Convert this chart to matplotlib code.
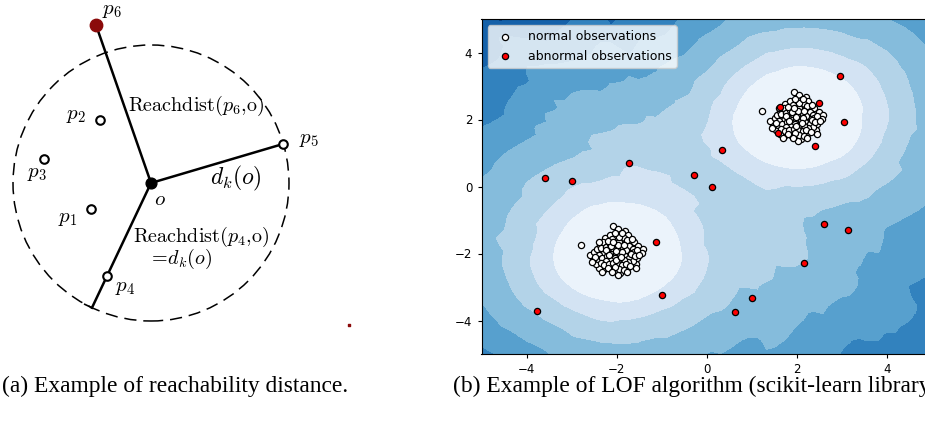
import numpy as np
import matplotlib
matplotlib.use("Agg")
from matplotlib import pyplot as plt

plt.rcParams['mathtext.fontset'] = 'cm'

# --- panel (a): reachability distance sketch (units ~ px, o at origin, y up)
o_pt = (0, 0)
p_names = ['p_1', 'p_2', 'p_3', 'p_4', 'p_5']
p_x = [-60, -51, -107, -44, 132]
p_y = [-26, 63, 24, -93, 39]
p6_pt = (-55, 158)
k_radius = 138

# --- panel (b): LOF example
# offsets of the inlier blob (same blob used at +2 and -2)
inl_dx = [-0.79, -0.08, 0.03, 0.19, 0.25, -0.27, -0.15, 0.08, 0.38, 0.48,
          0.58, 0.55, 0.44, 0.42, 0.43, 0.24, 0.08, 0.02, -0.13, -0.30,
          -0.39, -0.47, -0.53, -0.60, -0.50, -0.45, -0.38, -0.30, -0.10, 0.15,
          -0.35, -0.25, -0.15, -0.05, 0.05, 0.18, 0.28, 0.35, 0.30, 0.20,
          0.10, 0.00, -0.10, -0.20, -0.30, -0.40, -0.42, -0.33, -0.22, -0.12,
          -0.02, 0.08, 0.18, 0.28, 0.35, 0.25, 0.15, 0.05, -0.05, -0.15,
          -0.25, -0.35, -0.28, -0.18, -0.08, 0.02, 0.12, 0.20, 0.05, -0.05,
          -0.20, 0.30, 0.38, 0.45, -0.48, -0.12, 0.02, 0.12, -0.02, -0.25,
          0.22, -0.20, 0.05, -0.05, 0.12, -0.40, 0.32, 0.40, -0.10, 0.15,
          -0.55, 0.50, 0.33, -0.32, 0.22, -0.02, 0.10, -0.18, 0.15, -0.08]
inl_dy = [0.24, 0.83, 0.73, 0.66, 0.56, 0.46, 0.55, 0.58, 0.33, 0.22,
          0.12, 0.02, -0.14, -0.30, -0.44, -0.40, -0.57, -0.63, -0.46, -0.48,
          -0.42, -0.30, -0.18, -0.03, 0.05, 0.12, 0.25, 0.33, 0.42, 0.45,
          0.15, 0.20, 0.28, 0.30, 0.35, 0.30, 0.22, 0.12, 0.02, 0.10,
          0.18, 0.15, 0.12, 0.05, 0.00, -0.05, -0.15, -0.12, -0.08, -0.02,
          0.02, -0.05, -0.08, -0.12, -0.22, -0.25, -0.20, -0.15, -0.12, -0.18,
          -0.22, -0.28, -0.35, -0.30, -0.28, -0.30, -0.35, -0.32, -0.45, -0.40,
          -0.42, -0.38, 0.05, 0.10, -0.10, 0.22, 0.25, 0.05, -0.20, 0.10,
          0.40, 0.38, 0.50, 0.62, 0.62, 0.35, -0.02, -0.08, -0.55, -0.50,
          -0.25, -0.05, 0.42, -0.55, -0.55, 0.08, -0.10, -0.05, 0.25, 0.35]
blob_centres = [2, -2]
out_x = [2.95, 2.48, 1.61, 3.04, 1.58, 2.39, 0.33, -1.72, -3.59, -2.99,
         -0.28, 0.11, -1.13, 2.59, 3.13, 2.16, -0.99, 0.99, 0.63, -3.76]
out_y = [3.31, 2.48, 2.36, 1.93, 1.60, 1.20, 1.08, 0.71, 0.25, 0.16,
         0.33, 0.00, -1.65, -1.13, -1.30, -2.28, -3.25, -3.33, -3.75, -3.72]
n_neighbors = 20
# contour levels of the (negated) LOF score
lof_levels = [-16, -14, -12, -10, -8, -6, -4.4, -3.0, 0]

cap_a = '(a) Example of reachability distance.'
cap_b = '(b) Example of LOF algorithm (scikit-learn library)'


def lof_score(X, Q, k):
    # plain local outlier factor, returned negated like sklearn
    d = np.sqrt(((X[:, None, :] - X[None, :, :]) ** 2).sum(-1))
    np.fill_diagonal(d, np.inf)
    idx = np.argsort(d, axis=1)[:, :k]
    dist = np.take_along_axis(d, idx, axis=1)
    kdist = dist[:, -1]
    lrd = 1.0 / (np.maximum(dist, kdist[idx]).mean(1) + 1e-10)
    dq = np.sqrt(((Q[:, None, :] - X[None, :, :]) ** 2).sum(-1))
    iq = np.argsort(dq, axis=1)[:, :k]
    distq = np.take_along_axis(dq, iq, axis=1)
    lrdq = 1.0 / (np.maximum(distq, kdist[iq]).mean(1) + 1e-10)
    return -(lrd[iq].mean(1) / lrdq)


fig = plt.figure(figsize=(9.25, 4.21), dpi=100)

# ---------------- panel (a)
ax1 = fig.add_axes([0, 0, 440 / 925, 1])
ax1.set_xlim(-151, 289)
ax1.set_ylim(-238, 183)
ax1.axis('off')

circ = plt.Circle(o_pt, k_radius, fill=False, ls=(0, (8, 4.5)), lw=1.1, color='k')
ax1.add_patch(circ)

# segments from o
ax1.plot([o_pt[0], p6_pt[0]], [o_pt[1], p6_pt[1]], color='k', lw=1.8, zorder=2)
ax1.plot([o_pt[0], p_x[4]], [o_pt[1], p_y[4]], color='k', lw=1.8, zorder=2)
u = np.array([p_x[3], p_y[3]], float)
u = u / np.linalg.norm(u)
end = u * k_radius
ax1.plot([o_pt[0], end[0]], [o_pt[1], end[1]], color='k', lw=1.8, zorder=2)
perp = np.array([-u[1], u[0]])
ax1.plot([end[0], end[0] - 8 * perp[0]], [end[1], end[1] - 8 * perp[1]], color='k', lw=1.2)

ax1.scatter(p_x, p_y, s=38, facecolor='white', edgecolor='k', linewidth=1.5, zorder=3)
ax1.scatter([o_pt[0]], [o_pt[1]], s=60, color='k', zorder=3)
ax1.scatter([p6_pt[0]], [p6_pt[1]], s=80, color='#8b0a0a', zorder=3)
ax1.scatter([198], [-142], s=2, color='#8b0a0a', marker='s')

fs = 15
lab_pos = {'p_1': (-83, -35), 'p_2': (-75, 68), 'p_3': (-114, 10),
           'p_4': (-26, -104), 'p_5': (158, 44), 'p_6': (-39, 173)}
for name, (lx, ly) in lab_pos.items():
    ax1.text(lx, ly, '$%s$' % name, fontsize=fs, ha='center', va='center')
ax1.text(9, -16, '$o$', fontsize=fs, ha='center', va='center')
ax1.text(85, 5, '$d_k(o)$', fontsize=17, ha='center', va='center')
ax1.text(45, 77, r'$\mathrm{Reachdist}(p_6,\!\mathrm{o})$', fontsize=14.5, ha='center', va='center')
ax1.text(50, -54, r'$\mathrm{Reachdist}(p_4,\!\mathrm{o})$', fontsize=14.5, ha='center', va='center')
ax1.text(29, -76, r'$=\!d_k(o)$', fontsize=14.5, ha='center', va='center')

# ---------------- panel (b)
inl = np.array([inl_dx, inl_dy]).T
X = np.vstack([inl + blob_centres[0], inl + blob_centres[1],
               np.array([out_x, out_y]).T])
xx, yy = np.meshgrid(np.linspace(-5, 5, 50), np.linspace(-5, 5, 50))
Z = lof_score(X, np.c_[xx.ravel(), yy.ravel()], n_neighbors).reshape(xx.shape)

ax2 = fig.add_axes([481.5 / 925, 67 / 421, 451 / 925, 335 / 421])
nb = len(lof_levels) - 1
band_cols = [plt.cm.Blues_r((2 * i + 1) / (2 * nb)) for i in range(nb)]
ax2.contourf(xx, yy, Z, levels=lof_levels, colors=band_cols, extend='both')
n_in = 2 * len(inl_dx)
a = ax2.scatter(X[:n_in, 0], X[:n_in, 1], c='white', edgecolor='k', s=20, linewidth=0.9)
b = ax2.scatter(X[n_in:, 0], X[n_in:, 1], c='red', edgecolor='k', s=20, linewidth=0.9)
ax2.set_xlim(-5, 5)
ax2.set_ylim(-5, 5)
ax2.set_xticks([-4, -2, 0, 2, 4])
ax2.set_yticks([-4, -2, 0, 2, 4])
ax2.tick_params(labelsize=8.5, length=3.2, width=0.8)
ax2.legend([a, b], ["normal observations", "abnormal observations"],
           loc="upper left", fontsize=9, scatterpoints=1, framealpha=0.8)

fig.text(2 / 925, 1 - 386 / 421, cap_a, fontsize=16.9, family='Liberation Serif', va='center')
fig.text(453 / 925, 1 - 386 / 421, cap_b, fontsize=16.9, family='Liberation Serif', va='center')

plt.savefig('out.png', dpi=100)
